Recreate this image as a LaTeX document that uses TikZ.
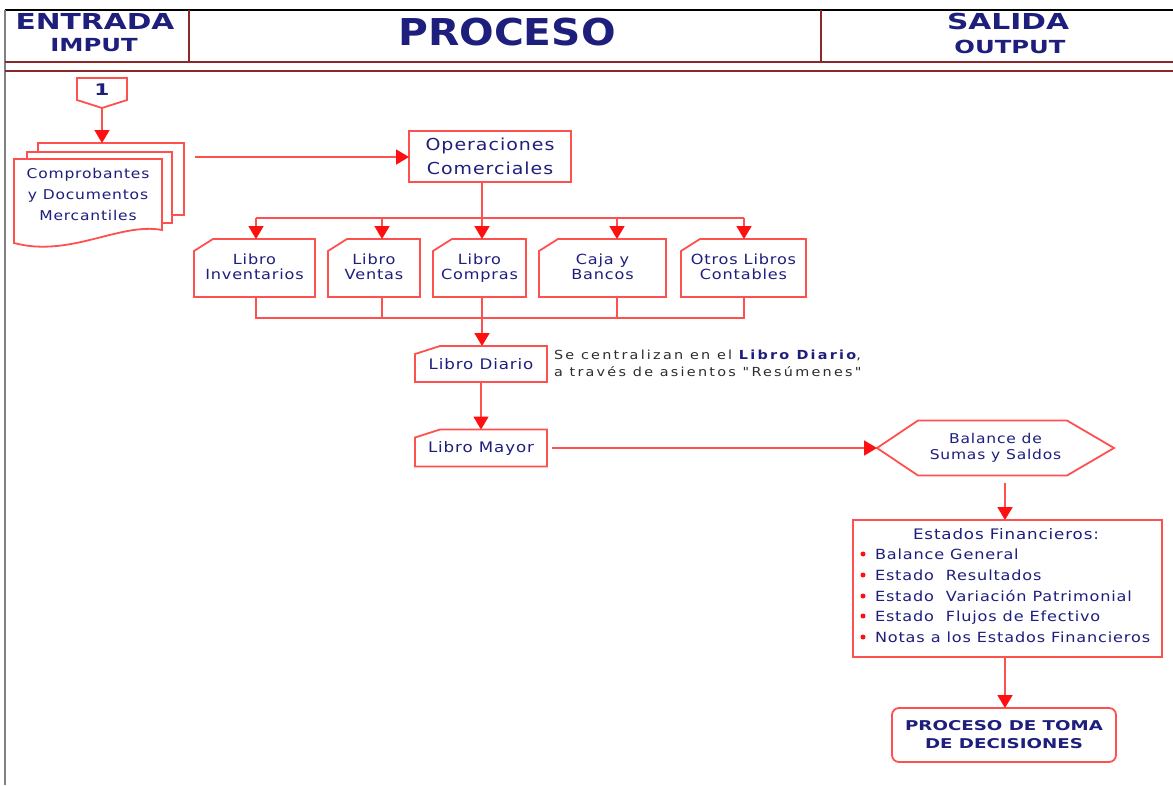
\documentclass[tikz,border=0pt]{standalone}
\usepackage{fontspec}
\setmainfont[FakeStretch=1.15,LetterSpace=6]{DejaVu Sans}
\newfontfamily\hdrfont[FakeStretch=1.35]{DejaVu Sans}
\newfontfamily\procfont[FakeStretch=1.1]{DejaVu Sans}
\newfontfamily\sidefont[FakeStretch=1.15,LetterSpace=18,Ligatures=TeXOff]{DejaVu Sans}
\usetikzlibrary{arrows.meta,backgrounds}
\definecolor{navy}{RGB}{30,30,125}
\definecolor{lred}{RGB}{255,80,80}
\definecolor{ared}{RGB}{255,15,15}
\definecolor{maroonline}{RGB}{140,40,40}
\definecolor{sidegray}{RGB}{45,45,45}
\newcommand{\fsz}[2]{\fontsize{#1}{#2}\selectfont}
\newcommand{\card}[3]{\draw[boxline] (#1.south west) -- ([yshift=-#3]#1.north west) -- ([xshift=#2]#1.north west) -- (#1.north east) -- (#1.south east) -- cycle;}
\tikzset{
 every node/.style={inner sep=0pt, outer sep=0pt},
 boxline/.style={draw=lred, line width=1.8pt, fill=white, line join=miter},
 conn/.style={draw=lred, line width=1.8pt},
 arr/.style={conn, -{Triangle[width=15pt,length=13pt,color=ared]}},
 txt/.style={text=navy, align=center},
 hdr/.style={text=navy},
 book/.style={txt, minimum height=58pt, text depth=3pt, font=\fsz{14}{15}},
 efi/.style={anchor=west, text=navy, text height=10.5pt, text depth=3pt, font=\fsz{14}{15}},
 frameline/.style={draw=maroonline, line width=2.5pt},
}
\begin{document}
\begin{tikzpicture}[x=1pt,y=-1pt]
\useasboundingbox (0,0) rectangle (1173,785);

% header texts
\node[hdr, font=\hdrfont\bfseries\fsz{22}{22}] (ent) at (95,21) {ENTRADA};
\node[hdr, font=\hdrfont\bfseries\fsz{18}{18}] (imp) at (94,45) {IMPUT};
\node[hdr, font=\procfont\bfseries\fsz{37}{37}] (proc) at (507,32) {PROCESO};
\node[hdr, font=\hdrfont\bfseries\fsz{22}{22}] (sal) at (1008,21) {SALIDA};
\node[hdr, font=\hdrfont\bfseries\fsz{18}{18}] (outp) at (1010,47) {OUTPUT};

% off-page connector
\node[minimum width=50pt, minimum height=30pt] (one) at (102,93) {};
\node[hdr, font=\hdrfont\bfseries\fsz{16}{16}] (onelbl) at (102,90) {1};

% documents
\node[minimum width=146pt, minimum height=72pt] (docb) at (111,179) {};
\node[minimum width=145pt, minimum height=71pt] (docm) at (99.5,187.5) {};
\node[txt, minimum width=148pt, minimum height=71pt, font=\fsz{13.5}{21}] (doc) at (88,194.5) {Comprobantes\\y Documentos\\Mercantiles};

% operaciones
\node[txt, draw=lred, line width=1.8pt, minimum width=162pt, minimum height=51pt, font=\fsz{16.5}{24}] (ops) at (490,156.5) {Operaciones\\Comerciales};

% books
\node[book, minimum width=121pt] (inv) at (254.5,268) {Libro\\Inventarios};
\node[book, minimum width=92pt] (ven) at (374,268) {Libro\\Ventas};
\node[book, minimum width=93pt] (com) at (479.5,268) {Libro\\Compras};
\node[book, minimum width=127pt] (caj) at (602.5,268) {Caja y\\Bancos};
\node[book, minimum width=125pt] (otr) at (743.5,268) {Otros Libros\\Contables};

% diario / mayor
\node[txt, minimum width=132pt, minimum height=36pt, font=\fsz{14.5}{15}] (dia) at (481,364) {Libro Diario};
\node[txt, minimum width=132pt, minimum height=37pt, font=\fsz{14.5}{15}] (mayor) at (481,448) {Libro Mayor};
\node[anchor=west, align=left, text=sidegray, font=\sidefont\fsz{12.5}{17}] (side) at (554,363.5) {Se centralizan en el {\bfseries\color{navy}Libro Diario},\\a través de asientos "Resúmenes"};

% balance
\node[txt, minimum width=237pt, minimum height=55pt, font=\fsz{13.5}{16}] (hex) at (995.5,448) {Balance de\\Sumas y Saldos};

% estados financieros
\node[draw=lred, line width=1.8pt, minimum width=309pt, minimum height=137pt] (ef) at (1007.5,588.5) {};
\node[txt, font=\fsz{14.5}{15}] (eft) at (1006,534) {Estados Financieros:};
\node[efi] (ef1) at (875,556) {Balance General};
\node[efi] (ef2) at (875,577) {Estado~ Resultados};
\node[efi] (ef3) at (875,598) {Estado~ Variación Patrimonial};
\node[efi] (ef4) at (875,618) {Estado~ Flujos de Efectivo};
\node[efi] (ef5) at (875,639) {Notas a los Estados Financieros};
\foreach \yy in {554,575,596,616,637} \fill[ared] (863,\yy) circle (2.5pt);

% decision box
\node[txt, draw=lred, line width=1.8pt, rounded corners=7pt, minimum width=224pt, minimum height=54pt, font=\hdrfont\bfseries\fsz{13.5}{18}] (fin) at (1004,735) {PROCESO DE TOMA\\DE DECISIONES};

% helper coordinates
\coordinate (dstart) at (195,157);
\coordinate (t1) at (256,218);
\coordinate (t2) at (382,218);
\coordinate (t3) at (482,218);
\coordinate (t4) at (617,218);
\coordinate (t5) at (744,218);
\coordinate (u1) at (256,318);
\coordinate (u2) at (382,318);
\coordinate (u3) at (482,318);
\coordinate (u4) at (617,318);
\coordinate (u5) at (744,318);
\coordinate (mstart) at ([xshift=5pt]mayor.east);
\coordinate (hstart) at (1005,483);
\coordinate (estart) at (1005,657);

% connectors
\draw[arr] (one.south) -- (one.south |- docb.north);
\draw[arr] (dstart) -- (ops.west |- dstart);
\draw[conn] (ops.south -| t3) -- (t3);
\draw[conn] (t1) -- (t5);
\draw[arr] (t1) -- (t1 |- inv.north);
\draw[arr] (t2) -- (t2 |- ven.north);
\draw[arr] (t3) -- (t3 |- com.north);
\draw[arr] (t4) -- (t4 |- caj.north);
\draw[arr] (t5) -- (t5 |- otr.north);
\draw[conn] (inv.south -| u1) -- (u1) -- (u5) -- (otr.south -| u5);
\draw[conn] (ven.south -| u2) -- (u2);
\draw[conn] (caj.south -| u4) -- (u4);
\draw[arr] (com.south -| u3) -- (dia.north -| u3);
\draw[arr] (dia.south) -- (mayor.north);
\draw[arr] (mstart) -- (hex.west);
\draw[arr] (hstart) -- (hstart |- ef.north);
\draw[arr] (estart) -- (estart |- fin.north);

% frame
\draw[black, line width=1.2pt] (5,10) -- (1173,10);
\draw[gray, line width=2pt] (5,10) -- (5,785);
\draw[frameline] (5,62) -- (1173,62);
\draw[frameline] (5,71) -- (1173,71);
\draw[frameline] (189,10) -- (189,62);
\draw[frameline] (821,10) -- (821,62);

\begin{pgfonlayer}{background}
\fill[white] (0,0) rectangle (1173,785);
\draw[boxline] (one.north west) -- (one.north east) -- ([yshift=8pt]one.south east) -- (one.south) -- ([yshift=8pt]one.south west) -- cycle;
\draw[boxline] (docb.north west) rectangle (docb.south east);
\draw[boxline] (docm.north west) rectangle (docm.south east);
\draw[boxline] (doc.north west) -- (doc.north east) -- (doc.south east) .. controls (120,222) and (70,258) .. (14,243) -- cycle;
\card{inv}{19pt}{12pt}
\card{ven}{19pt}{12pt}
\card{com}{19pt}{12pt}
\card{caj}{19pt}{12pt}
\card{otr}{19pt}{12pt}
\card{dia}{25pt}{8pt}
\card{mayor}{25pt}{8pt}
\draw[boxline] (hex.west) -- ([xshift=41pt]hex.north west) -- ([xshift=-47pt]hex.north east) -- (hex.east) -- ([xshift=-47pt]hex.south east) -- ([xshift=41pt]hex.south west) -- cycle;
\end{pgfonlayer}
\end{tikzpicture}
\end{document}
